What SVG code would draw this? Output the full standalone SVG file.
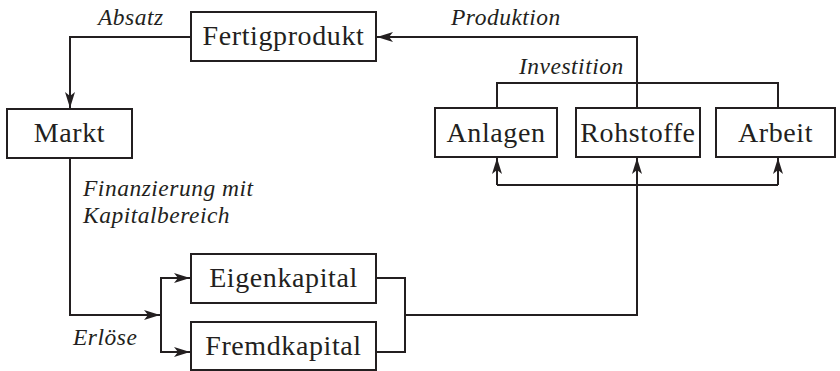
<svg xmlns="http://www.w3.org/2000/svg" width="840" height="371" viewBox="0 0 840 371">
<style>
.box{fill:#fff;stroke:#231f20;stroke-width:2}
.n{font-family:'Liberation Serif','Times New Roman',serif;font-size:28px;letter-spacing:0.6px;fill:#231f20;text-anchor:middle}
.l{font-family:'Liberation Serif','Times New Roman',serif;font-size:23.5px;letter-spacing:0.5px;font-style:italic;fill:#231f20}
.c{fill:none;stroke:#231f20;stroke-width:2}
</style>
<defs>
<marker id="ah" viewBox="0 0 16 10" refX="16" refY="5" markerWidth="16" markerHeight="10" markerUnits="userSpaceOnUse" orient="auto">
<path d="M0,0 L16,5 L0,10 L4,5 Z" fill="#231f20"/>
</marker>
</defs>
<g id="connectors">
<path class="c" d="M191,37 H70 V108" marker-end="url(#ah)"/>
<path class="c" d="M637,108 V37 H377" marker-end="url(#ah)"/>
<path class="c" d="M497,108 V83 H778 V108"/>
<path class="c" d="M70,158 V315 H160"/>
<path d="M144,310 L160,315 L144,320 L148,315 Z" fill="#231f20"/>
<path class="c" d="M190,278 H161 V352 H190"/>
<path d="M174,273 L190,278 L174,283 L178,278 Z" fill="#231f20"/>
<path d="M174,347 L190,352 L174,357 L178,352 Z" fill="#231f20"/>
<path class="c" d="M376,278 H405 V352 H376"/>
<path class="c" d="M405,315 H637 V158"/>
<path class="c" d="M497,185 V158" marker-end="url(#ah)"/>
<path class="c" d="M778,185 V158" marker-end="url(#ah)"/>
<path class="c" d="M497,185 H778"/>
<path d="M632,174 L637,158 L642,174 L637,170 Z" fill="#231f20"/>
</g>
<g id="fertigprodukt"><rect class="box" x="191" y="12" width="185" height="49"/><text class="n" x="283.5" y="45">Fertigprodukt</text></g>
<g id="markt"><rect class="box" x="7" y="109" width="125" height="49"/><text class="n" x="69.5" y="142">Markt</text></g>
<g id="anlagen"><rect class="box" x="435" y="108" width="122" height="49"/><text class="n" x="496" y="142">Anlagen</text></g>
<g id="rohstoffe"><rect class="box" x="576" y="108" width="124" height="49"/><text class="n" x="638" y="142">Rohstoffe</text></g>
<g id="arbeit"><rect class="box" x="716" y="108" width="119" height="49"/><text class="n" x="775.5" y="142">Arbeit</text></g>
<g id="eigenkapital"><rect class="box" x="191" y="254" width="185" height="49"/><text class="n" x="283.5" y="287">Eigenkapital</text></g>
<g id="fremdkapital"><rect class="box" x="191" y="322" width="185" height="48"/><text class="n" x="283.5" y="355">Fremdkapital</text></g>
<g id="labels">
<text class="l" x="98" y="25">Absatz</text>
<text class="l" x="451" y="25">Produktion</text>
<text class="l" x="519" y="74">Investition</text>
<text class="l" x="83" y="196">Finanzierung mit</text>
<text class="l" x="83" y="223">Kapitalbereich</text>
<text class="l" x="73" y="345">Erlöse</text>
</g>
</svg>
